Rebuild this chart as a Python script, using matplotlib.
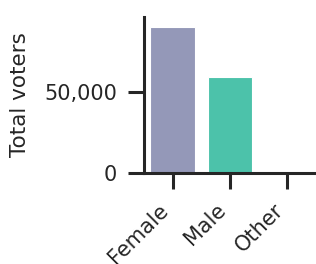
import matplotlib
matplotlib.use('Agg')
import matplotlib.pyplot as plt
from matplotlib.ticker import FuncFormatter

# data
categories = ['Female', 'Male', 'Other']
voters = [90100, 59300, 0]
colors = ['#9498b8', '#4cc2aa', '#e78ac3']

ink = '#262626'
plt.rcParams['font.family'] = 'DejaVu Sans'

fig = plt.figure(figsize=(3.16, 2.64), dpi=100)
ax = fig.add_axes([144 / 316, 1 - 173 / 264, 1 - 144 / 316, (173 - 17) / 264])

ax.bar(range(len(categories)), voters, width=0.78, color=colors,
       edgecolor='white', linewidth=0.8)

ax.set_xlim(-0.5, 2.5)
ax.set_ylim(0, 96600)
ax.set_yticks([0, 50000])
ax.yaxis.set_major_formatter(FuncFormatter(lambda v, p: f'{int(v):,}'))
ax.set_xticks(range(len(categories)))
ax.set_xticklabels(categories, rotation=45, ha='right')
ax.set_ylabel('Total voters', fontsize=15.5, color=ink, labelpad=10)

for side in ['top', 'right']:
    ax.spines[side].set_visible(False)
for side in ['left', 'bottom']:
    ax.spines[side].set_linewidth(2.2)
    ax.spines[side].set_color(ink)

ax.tick_params(axis='both', length=11.5, width=2.2, color=ink,
               labelcolor=ink, labelsize=15, pad=8)

fig.savefig('out.png', dpi=100)
